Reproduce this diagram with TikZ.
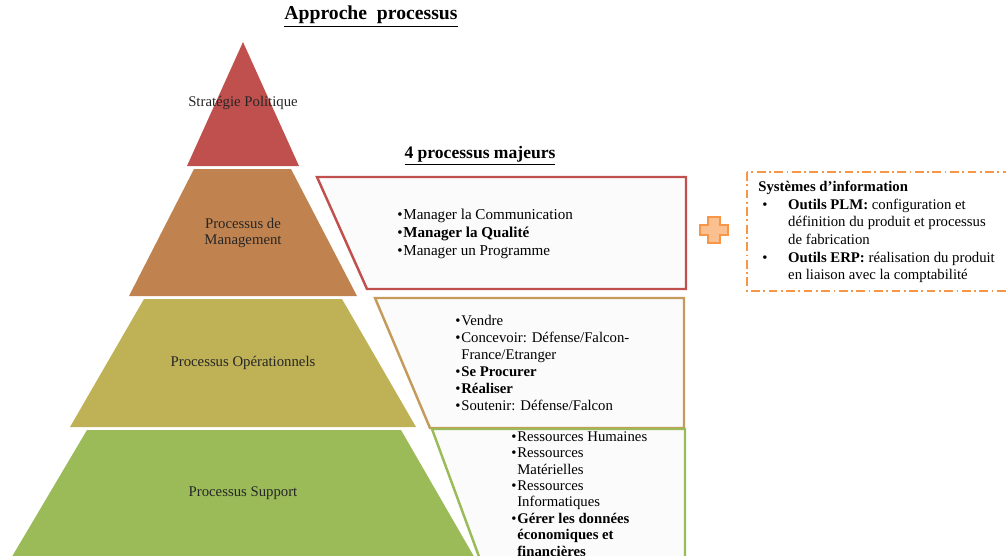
\documentclass[tikz,border=0pt]{standalone}
\usepackage{fontspec}
\setmainfont{Liberation Serif}
\usepackage{tikz}
\definecolor{strat}{HTML}{C0504D}
\definecolor{mgmt}{HTML}{C0834F}
\definecolor{oper}{HTML}{BFB156}
\definecolor{supp}{HTML}{9BBB59}
\definecolor{tan}{HTML}{C59B5B}
\definecolor{orng}{HTML}{F79646}
\definecolor{peach}{HTML}{FAC090}
\definecolor{paper}{HTML}{FBFBFB}
\newcommand{\bul}{\makebox[3.4pt][l]{\textbullet}}
\newcommand{\ind}{\hspace*{3.4pt}}
\tikzset{
  frame/.style={fill=paper, line width=1.4pt, line join=miter},
  lbl/.style={font=\fontsize{8.4}{9.2}\selectfont, align=center, text=black!85, inner sep=0pt},
  lst/.style={font=\fontsize{8.4}{9.6}\selectfont, align=left, anchor=west, inner sep=0pt},
  ttl/.style={font=\bfseries\fontsize{11.2}{13}\selectfont, inner sep=0pt},
  sub/.style={font=\bfseries\fontsize{10}{12}\selectfont, inner sep=0pt},
  info/.style={draw=orng, line width=1.1pt, dash pattern=on 5pt off 2pt on 1pt off 2pt},
}

\begin{document}
\begin{tikzpicture}[x=0.02cm, y=-0.02cm]
  \useasboundingbox (0,0) rectangle (1006,555);
  \begin{scope}
  \clip (0,0) rectangle (1006,555);

  % pyramid
  \fill[strat] (243,42) -- (299,166) -- (187,166) -- cycle;
  \fill[mgmt] (194,169) -- (291,169) -- (357,296) -- (129,296) -- cycle;
  \fill[oper] (144,299) -- (342,299) -- (416,427) -- (70,427) -- cycle;
  \fill[supp] (87,430) -- (401,430) -- (476,560) -- (10,560) -- cycle;

  \node[lbl] (strat) at (243,103) {Stratégie Politique};
  \node[lbl] (mgmt) at (243,233) {Processus de\\Management};
  \node[lbl] (oper) at (243,363) {Processus Opérationnels};
  \node[lbl] (supp) at (243,493) {Processus Support};

  % the four process boxes
  \draw[frame, draw=strat] (317,177) -- (686,177) -- (686,289) -- (367,289) -- cycle;
  \draw[frame, draw=tan] (375,298) -- (684,298) -- (684,428) -- (430,428) -- cycle;
  \draw[frame, draw=supp] (432,429) -- (685,429) -- (685,562) -- (481,562) -- cycle;

  \node[lst, font=\fontsize{8.6}{10.2}\selectfont] (lmgmt) at (397,234) {%
    \bul Manager la Communication\\
    \bul\textbf{Manager la Qualité}\\
    \bul Manager un Programme};
  \node[lst] (loper) at (455,363) {%
    \bul Vendre\\
    \bul Concevoir: Défense/Falcon-\\
    \ind France/Etranger\\
    \bul\textbf{Se Procurer}\\
    \bul\textbf{Réaliser}\\
    \bul Soutenir: Défense/Falcon};
  \node[lst, font=\fontsize{8.4}{9.3}\selectfont] (lsupp) at (511,494) {%
    \bul Ressources Humaines\\
    \bul Ressources\\
    \ind Matérielles\\
    \bul Ressources\\
    \ind Informatiques\\
    \bul\textbf{Gérer les données}\\
    \ind\textbf{économiques et}\\
    \ind\textbf{financières}};

  % plus sign
  \draw[fill=peach, draw=orng, line width=0.6pt] (708,217) -- (720,217) -- (720,225) -- (728,225)
    -- (728,235) -- (720,235) -- (720,243) -- (708,243) -- (708,235) -- (700,235)
    -- (700,225) -- (708,225) -- cycle;

  % information systems
  \draw[info] (747,172) rectangle (1015,291);
  \node[lst, font=\fontsize{8.4}{10.1}\selectfont] (lsi) at (758,232) {%
    \textbf{Systèmes d’information}\\
    \hspace*{2.3pt}\makebox[14.7pt][l]{\textbullet}\textbf{Outils PLM:} configuration et\\
    \hspace*{17pt}définition du produit et processus\\
    \hspace*{17pt}de fabrication\\
    \hspace*{2.3pt}\makebox[14.7pt][l]{\textbullet}\textbf{Outils ERP:} réalisation du produit\\
    \hspace*{17pt}en liaison avec la comptabilité};

  % titles
  \node[ttl] (title) at (371,17) {\underline{Approche\ \ processus}};
  \node[sub] (major) at (480,156) {\underline{4 processus majeurs}};
  \end{scope}
\end{tikzpicture}
\end{document}
